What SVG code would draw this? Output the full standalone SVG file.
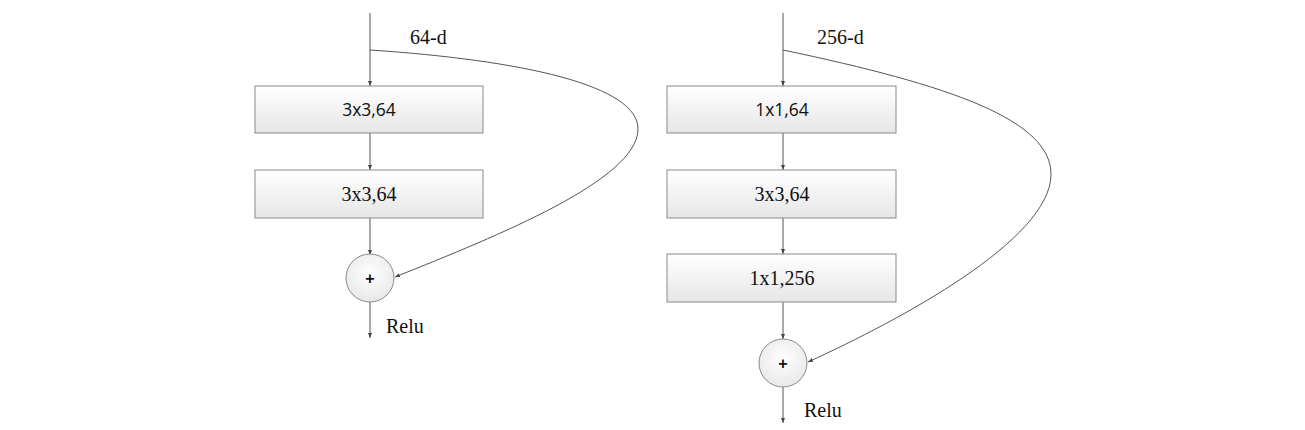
<svg xmlns="http://www.w3.org/2000/svg" width="1305" height="430" viewBox="0 0 1305 430">
<style>
.box{stroke:#8a8a8a;stroke-width:1;fill:url(#g)}
.circ{stroke:#8a8a8a;stroke-width:1;fill:url(#gc)}
.ln{stroke:#555;stroke-width:1;fill:none;marker-end:url(#ah)}
.sans{font-family:"Open Sans","Liberation Sans",sans-serif;font-size:17.5px;fill:#111;text-anchor:middle}
.serif{font-family:"Liberation Serif",serif;font-size:20px;fill:#111}
.serifc{font-family:"Liberation Serif",serif;font-size:20px;fill:#111;text-anchor:middle}
.plus{font-family:"Liberation Sans",sans-serif;font-size:16px;font-weight:bold;fill:#111;text-anchor:middle}
</style>
<defs>
<linearGradient id="g" x1="0" y1="0" x2="0" y2="1"><stop offset="0" stop-color="#ffffff"/><stop offset="1" stop-color="#e6e6e6"/></linearGradient>
<radialGradient id="gc" cx="0.5" cy="0.4" r="0.6"><stop offset="0" stop-color="#ffffff"/><stop offset="1" stop-color="#e8e8e8"/></radialGradient>
<marker id="ah" viewBox="0 0 10 10" refX="10" refY="5" markerWidth="5" markerHeight="5" orient="auto" markerUnits="userSpaceOnUse"><path d="M0,1 L10,5 L0,9 z" fill="#444"/></marker>
</defs>
<rect width="1305" height="430" fill="#fff"/>
<g id="connectors">
<line class="ln" x1="370" y1="13" x2="370" y2="86"/>
<line class="ln" x1="370" y1="133" x2="370" y2="170"/>
<line class="ln" x1="370" y1="218" x2="370" y2="255"/>
<line class="ln" x1="370" y1="302" x2="370" y2="338"/>
<path class="ln" d="M370,50 C520,60 640,85 638,130 C636,180 500,235 395,277"/>
<line class="ln" x1="783" y1="13" x2="783" y2="86"/>
<line class="ln" x1="783" y1="133" x2="783" y2="170"/>
<line class="ln" x1="783" y1="218" x2="783" y2="254"/>
<line class="ln" x1="783" y1="302" x2="783" y2="339"/>
<line class="ln" x1="783" y1="387" x2="783" y2="423"/>
<path class="ln" d="M783,50 C950,85 1052,120 1051,175 C1050,240 900,320 808,362"/>
</g>
<g id="label-64d"><text class="serif" x="410" y="44">64-d</text></g>
<g id="l-box1"><rect class="box" x="255" y="86" width="228" height="47"/><text class="sans" x="369" y="116">3x3,64</text></g>
<g id="l-box2"><rect class="box" x="255" y="170" width="228" height="48"/><text class="serifc" x="369" y="201">3x3,64</text></g>
<g id="l-add"><circle class="circ" cx="370" cy="278" r="24"/><text class="plus" x="370" y="284">+</text></g>
<g id="l-relu"><text class="serif" x="386" y="333">Relu</text></g>
<g id="label-256d"><text class="serif" x="817" y="44">256-d</text></g>
<g id="r-box1"><rect class="box" x="667" y="86" width="229" height="47"/><text class="sans" x="782" y="116">1x1,64</text></g>
<g id="r-box2"><rect class="box" x="667" y="170" width="229" height="48"/><text class="serifc" x="782" y="201">3x3,64</text></g>
<g id="r-box3"><rect class="box" x="667" y="254" width="229" height="48"/><text class="serifc" x="782" y="285">1x1,256</text></g>
<g id="r-add"><circle class="circ" cx="783" cy="363" r="24"/><text class="plus" x="783" y="369">+</text></g>
<g id="r-relu"><text class="serif" x="804" y="417">Relu</text></g>
</svg>
